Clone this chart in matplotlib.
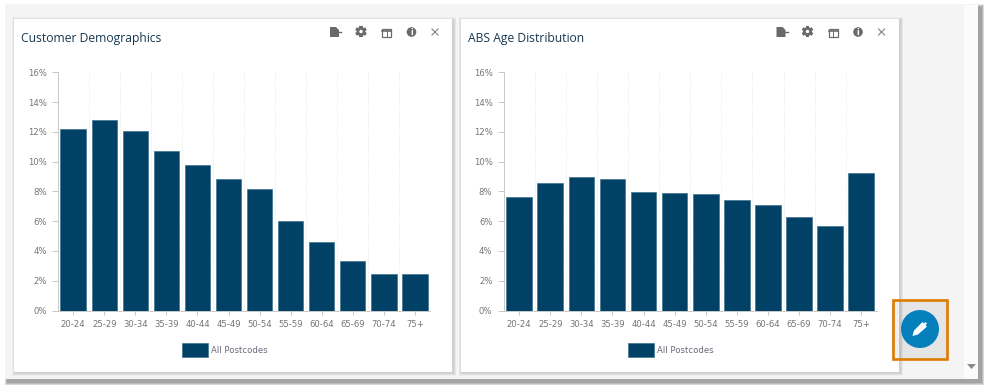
import matplotlib
matplotlib.use('Agg')
import matplotlib.pyplot as plt
from matplotlib.patches import Circle, Polygon, Rectangle
from matplotlib.transforms import Affine2D

W, H = 990, 391
NAVY = '#004165'
TICK_COLOR = '#757575'

age_groups = ['20-24', '25-29', '30-34', '35-39', '40-44', '45-49',
              '50-54', '55-59', '60-64', '65-69', '70-74', '75+']
customer_pct = [12.2, 12.8, 12.1, 10.7, 9.8, 8.85, 8.2, 6.0, 4.6, 3.3, 2.45, 2.45]
abs_pct = [7.65, 8.55, 8.95, 8.85, 7.95, 7.9, 7.8, 7.45, 7.1, 6.3, 5.65, 9.25]
y_ticks = [0, 2, 4, 6, 8, 10, 12, 14, 16]
series_name = 'All Postcodes'


def box(bg, x0, y0, x1, y1, color, z=1):
    bg.add_patch(Rectangle((x0, y0), x1 - x0, y1 - y0, fc=color, ec='none', zorder=z))


def shadow(bg, x0, y0, x1, y1, off=2, steps=5, color='#555555', alpha=0.07, z=1):
    for i in range(steps, 0, -1):
        bg.add_patch(Rectangle((x0 + off - i * 0.5, y0 + off - i * 0.5),
                               x1 - x0 + i, y1 - y0 + i,
                               fc=color, ec='none', alpha=alpha, zorder=z))


def gear(bg, cx, cy, c):
    for ang in (0, 60, 120):
        t = Affine2D().rotate_deg_around(cx, cy, ang) + bg.transData
        bg.add_patch(Rectangle((cx - 1.6, cy - 5.8), 3.2, 11.6, fc=c, ec='none',
                               zorder=5, transform=t))
    bg.add_patch(Circle((cx, cy), 4.4, fc=c, ec='none', zorder=5))
    bg.add_patch(Circle((cx, cy), 1.7, fc='white', ec='none', zorder=6))


def icons(bg, dx):
    # export, settings, table, info, close
    c = '#6a6a6a'
    bg.add_patch(Polygon([(330 + dx, 27), (336 + dx, 27), (339 + dx, 30),
                          (339 + dx, 37), (330 + dx, 37)], fc=c, ec='none', zorder=5))
    bg.plot([338 + dx, 341 + dx], [32, 32], color=c, lw=1, zorder=5)
    gear(bg, 361 + dx, 31.5, c)
    bg.add_patch(Rectangle((382 + dx, 28.5), 9, 8, fc='white', ec=c, lw=0.9, zorder=5))
    bg.plot([382 + dx, 391 + dx], [31, 31], color=c, lw=1.2, zorder=6)
    bg.plot([386.5 + dx, 386.5 + dx], [31, 36], color=c, lw=0.7, zorder=6)
    bg.add_patch(Circle((411.5 + dx, 32), 4.8, fc=c, ec='none', zorder=5))
    bg.text(411.5 + dx, 32.2, 'i', color='white', fontsize=5.5, fontweight='bold',
            ha='center', va='center', zorder=6)
    bg.plot([432 + dx, 438 + dx], [29, 35], color='#808080', lw=0.8, zorder=5)
    bg.plot([432 + dx, 438 + dx], [35, 29], color='#808080', lw=0.8, zorder=5)


def panel(fig, bg, x0, x1, title, values, px0, px1):
    y0, y1 = 19, 371.5
    shadow(bg, x0, y0, x1, y1, off=1, steps=6, color='#777777', alpha=0.05, z=2)
    box(bg, x0, y0, x1, y1, 'white', z=3)
    bg.text(x0 + 7, 38.5, title, fontsize=8.75, family='Open Sans', color='#17374f',
            ha='left', va='center', zorder=5)
    icons(bg, x0 - 14)

    ax = fig.add_axes([px0 / W, 1 - 310.5 / H, (px1 - px0) / W, 238 / H], zorder=4)
    ax.patch.set_alpha(0)
    xs = range(len(age_groups))
    ax.bar(xs, values, width=0.82, color=NAVY, edgecolor='#3d7390', linewidth=0.5,
           label=series_name, zorder=3)
    ax.set_xlim(-0.5, len(age_groups) - 0.5)
    ax.set_ylim(0, 16)
    ax.set_xticks(list(xs))
    ax.set_xticklabels(age_groups)
    ax.set_yticks(y_ticks)
    ax.set_yticklabels([f'{v}%' for v in y_ticks])
    ax.set_xticks([i + 0.5 for i in xs], minor=True)
    ax.grid(True, which='minor', axis='x', color='#eeeeee', lw=0.7, ls=(0, (2, 1.5)))
    ax.tick_params(axis='x', which='minor', length=0)
    ax.tick_params(axis='y', which='major', labelsize=6.1, labelcolor=TICK_COLOR,
                   color='#c8c8c8', length=4, width=0.7, pad=4)
    ax.tick_params(axis='x', which='major', labelsize=6.1, labelcolor=TICK_COLOR,
                   color='#c8c8c8', length=3, width=0.7, pad=4)
    ax.spines[['top', 'right']].set_visible(False)
    ax.spines[['left', 'bottom']].set_color('#c8c8c8')
    ax.spines[['left', 'bottom']].set_linewidth(0.7)
    ax.legend(loc='upper center', bbox_to_anchor=(0.448, -0.138), frameon=False,
              fontsize=6.1, labelcolor='#6b6b7b', handlelength=3.07, handleheight=2.17,
              handletextpad=0.4, borderpad=0, borderaxespad=0)


fig = plt.figure(figsize=(W / 100, H / 100), dpi=100, facecolor='white')
bg = fig.add_axes([0, 0, 1, 1], zorder=0)
bg.set_xlim(0, W)
bg.set_ylim(H, 0)
bg.axis('off')

# page frame with scroll bar strip
shadow(bg, 4.5, 4, 978, 379, off=3, steps=6, color='#444444', alpha=0.1, z=1)
box(bg, 4.5, 4, 978, 379, '#f4f4f4', z=1.5)
box(bg, 964, 5, 978, 379, '#fbfbfb', z=1.6)
bg.add_patch(Polygon([(967, 364), (976, 364), (971.5, 369)], fc='#8a8a8a', ec='none', zorder=2))

panel(fig, bg, 14, 452, 'Customer Demographics', customer_pct, 57.7, 430.4)
panel(fig, bg, 460.5, 899, 'ABS Age Distribution', abs_pct, 503.6, 876.8)

# edit button with orange highlight
overlay = fig.add_axes([0, 0, 1, 1], zorder=6)
overlay.set_xlim(0, W)
overlay.set_ylim(H, 0)
overlay.axis('off')
overlay.patch.set_alpha(0)
overlay.add_patch(Rectangle((891.5, 300), 55, 59, fc='#000000', alpha=0.06, ec='none'))
overlay.add_patch(Rectangle((893, 300), 54, 58.5, fc='none', ec='#dd7a00', lw=1.9))
overlay.add_patch(Circle((920, 329), 19, fc='#0580bd', ec='none', zorder=3))
overlay.add_patch(Polygon([(912.5, 336), (914, 330.5), (922.5, 322), (924, 323.5),
                           (925.5, 322), (927, 323.5), (925.5, 325), (927, 326.5),
                           (918, 334.5)], fc='white', ec='none', zorder=4))

fig.savefig('out.png', dpi=100)
